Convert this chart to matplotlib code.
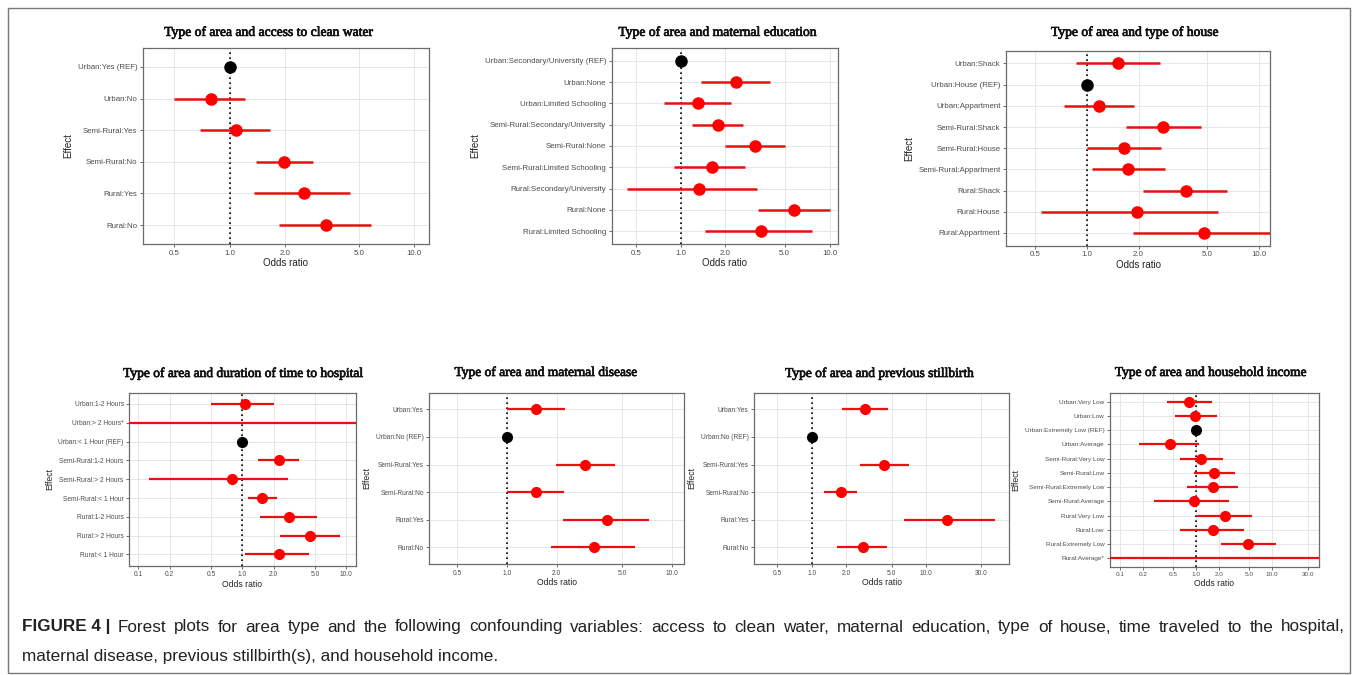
import numpy as np
import matplotlib
matplotlib.use("Agg")
import matplotlib.pyplot as plt
import matplotlib.patheffects as pe
from matplotlib.patches import Rectangle

plt.rcParams['font.family'] = ['Liberation Sans', 'DejaVu Sans']

W, H = 1357, 675

# ---- data (odds ratio, lower CI, upper CI); nan estimate = point off scale
water_labels = ["Urban:Yes (REF)", "Urban:No", "Semi-Rural:Yes", "Semi-Rural:No",
                "Rural:Yes", "Rural:No"]
water_or = [1.0, 0.79, 1.08, 1.97, 2.51, 3.32]
water_lo = [1.0, 0.50, 0.69, 1.38, 1.36, 1.86]
water_hi = [1.0, 1.21, 1.65, 2.81, 4.48, 5.81]

edu_labels = ["Urban:Secondary/University (REF)", "Urban:None", "Urban:Limited Schooling",
              "Semi-Rural:Secondary/University", "Semi-Rural:None",
              "Semi-Rural:Limited Schooling", "Rural:Secondary/University",
              "Rural:None", "Rural:Limited Schooling"]
edu_or = [1.0, 2.36, 1.30, 1.78, 3.18, 1.62, 1.33, 5.77, 3.45]
edu_lo = [1.0, 1.37, 0.77, 1.20, 2.00, 0.91, 0.44, 3.33, 1.46]
edu_hi = [1.0, 3.98, 2.17, 2.63, 5.02, 2.72, 3.28, 10.0, 7.62]

house_labels = ["Urban:Shack", "Urban:House (REF)", "Urban:Appartment",
                "Semi-Rural:Shack", "Semi-Rural:House", "Semi-Rural:Appartment",
                "Rural:Shack", "Rural:House", "Rural:Appartment"]
house_or = [1.53, 1.0, 1.18, 2.79, 1.65, 1.74, 3.75, 1.97, 4.77]
house_lo = [0.87, 1.0, 0.74, 1.70, 1.01, 1.07, 2.13, 0.54, 1.86]
house_hi = [2.66, 1.0, 1.88, 4.60, 2.69, 2.84, 6.57, 5.78, 15.0]

hosp_labels = ["Urban:1-2 Hours", "Urban:> 2 Hours*", "Urban:< 1 Hour (REF)",
               "Semi-Rural:1-2 Hours", "Semi-Rural:> 2 Hours", "Semi-Rural:< 1 Hour",
               "Rural:1-2 Hours", "Rural:> 2 Hours", "Rural:< 1 Hour"]
hosp_or = [1.05, np.nan, 1.0, 2.25, 0.80, 1.56, 2.81, 4.51, 2.24]
hosp_lo = [0.50, 0.001, 1.0, 1.43, 0.127, 1.13, 1.48, 2.30, 1.06]
hosp_hi = [2.00, 1000.0, 1.0, 3.53, 2.77, 2.14, 5.26, 8.75, 4.34]

dis_labels = ["Urban:Yes", "Urban:No (REF)", "Semi-Rural:Yes", "Semi-Rural:No",
              "Rural:Yes", "Rural:No"]
dis_or = [1.50, 1.0, 2.96, 1.50, 4.04, 3.36]
dis_lo = [1.00, 1.0, 1.97, 1.00, 2.20, 1.85]
dis_hi = [2.26, 1.0, 4.50, 2.21, 7.22, 5.97]

still_labels = ["Urban:Yes", "Urban:No (REF)", "Semi-Rural:Yes", "Semi-Rural:No",
                "Rural:Yes", "Rural:No"]
still_or = [2.92, 1.0, 4.30, 1.79, 15.2, 2.78]
still_lo = [1.83, 1.0, 2.64, 1.29, 6.43, 1.67]
still_hi = [4.66, 1.0, 7.06, 2.50, 39.4, 4.57]

inc_labels = ["Urban:Very Low", "Urban:Low", "Urban:Extremely Low (REF)", "Urban:Average",
              "Semi-Rural:Very Low", "Semi-Rural:Low", "Semi-Rural:Extremely Low",
              "Semi-Rural:Average", "Rural:Very Low", "Rural:Low",
              "Rural:Extremely Low", "Rural:Average*"]
inc_or = [0.81, 0.97, 1.0, 0.46, 1.16, 1.71, 1.66, 0.93, 2.38, 1.66, 4.79, np.nan]
inc_lo = [0.42, 0.53, 1.0, 0.178, 0.61, 0.95, 0.77, 0.28, 1.03, 0.61, 2.13, 0.001]
inc_hi = [1.62, 1.87, 1.0, 1.11, 2.29, 3.26, 3.61, 2.69, 5.51, 4.32, 11.1, 1000.0]

ticks_a = [0.5, 1.0, 2.0, 5.0, 10.0]
ticks_b = [0.1, 0.2, 0.5, 1.0, 2.0, 5.0, 10.0]
ticks_c = [0.5, 1.0, 2.0, 5.0, 10.0, 30.0]
ticks_d = [0.1, 0.2, 0.5, 1.0, 2.0, 5.0, 10.0, 30.0]

caption_1 = ("Forest plots for area type and the following confounding variables: access to "
             "clean water, maternal education, type of house, time traveled to the hospital,")
caption_2 = "maternal disease, previous stillbirth(s), and household income."

fig = plt.figure(figsize=(W / 100, H / 100), dpi=100)


def px_axes(x0, y0, x1, y1):
    return fig.add_axes([x0 / W, 1 - y1 / H, (x1 - x0) / W, (y1 - y0) / H])


def forest(box, title, title_xy, labels, est, lo, hi, ticks, xlim,
           fs=5.7, lab_fs=7, ms=8, lw=1.8, tfs=9.8):
    ax = px_axes(*box)
    n = len(labels)
    y = np.arange(n)
    ax.set_xscale('log')
    ax.set_xlim(*xlim)
    ax.set_ylim(n - 0.4, -0.6)
    ax.grid(True, color='#e6e6e6', linewidth=0.7, zorder=0)
    ax.axvline(1.0, color='black', linestyle=(0, (1, 2)), linewidth=1.2, zorder=2)
    for i in range(n):
        if lo[i] == hi[i]:
            ax.plot(est[i], y[i], 'o', color='black', markersize=ms, zorder=4)
        else:
            ax.plot([lo[i], hi[i]], [y[i], y[i]], color='#e81010', linewidth=lw,
                    solid_capstyle='butt', zorder=3)
            if not np.isnan(est[i]):
                ax.plot(est[i], y[i], 'o', color='#ff0000', markersize=ms, zorder=4)
    ax.set_yticks(y)
    ax.set_yticklabels(labels)
    ax.set_xticks(ticks)
    ax.set_xticklabels(["%.1f" % t for t in ticks])
    ax.minorticks_off()
    ax.tick_params(labelsize=fs, colors='#555555', length=2.5, width=0.6,
                   labelcolor='#4d4d4d', pad=1.5)
    for s in ax.spines.values():
        s.set_color('#6b6b6b')
        s.set_linewidth(0.9)
    ax.set_xlabel("Odds ratio", fontsize=lab_fs, color='#222222', labelpad=1)
    ax.set_ylabel("Effect", fontsize=lab_fs, color='#222222', labelpad=3)
    fig.text(title_xy[0] / W, 1 - title_xy[1] / H, title, ha='center', va='center',
             fontsize=tfs, fontweight='normal',
             family=['Liberation Serif', 'DejaVu Serif'], color='#111111',
             path_effects=[pe.withStroke(linewidth=0.5, foreground='#111111')])
    return ax


forest((142.7, 48, 429, 244), "Type of area and access to clean water", (269, 32),
       water_labels, water_or, water_lo, water_hi, ticks_a, (0.338, 12.0))
forest((611.7, 48, 838, 244), "Type of area and maternal education", (718, 32),
       edu_labels, edu_or, edu_lo, edu_hi, ticks_a, (0.345, 11.4))
forest((1006, 50.7, 1270, 245.7), "Type of area and type of house", (1135, 32),
       house_labels, house_or, house_lo, house_hi, ticks_a, (0.34, 11.6))

forest((129.3, 392.7, 355.7, 565.7), "Type of area and duration of time to hospital",
       (244, 374), hosp_labels, hosp_or, hosp_lo, hosp_hi, ticks_b, (0.082, 12.3),
       fs=4.8, lab_fs=6.2, ms=7, lw=1.6, tfs=9.7)
forest((429.3, 392.7, 684, 564), "Type of area and maternal disease", (546.5, 373),
       dis_labels, dis_or, dis_lo, dis_hi, ticks_a, (0.339, 11.8),
       fs=4.8, lab_fs=6.2, ms=7, lw=1.6, tfs=9.7)
forest((754.3, 392.7, 1009.3, 564), "Type of area and previous stillbirth", (880, 374),
       still_labels, still_or, still_lo, still_hi, ticks_c, (0.316, 53),
       fs=4.8, lab_fs=6.2, ms=7, lw=1.6, tfs=9.7)
forest((1110, 393.3, 1318.7, 566.7), "Type of area and household income", (1211, 373),
       inc_labels, inc_or, inc_lo, inc_hi, ticks_d, (0.074, 41),
       fs=4.6, lab_fs=6.2, ms=7, lw=1.6, tfs=9.7)

# outer frame
fig.patches.append(Rectangle((8 / W, 1 - 673 / H), (1350 - 8) / W, (673 - 8) / H,
                             transform=fig.transFigure, fill=False,
                             edgecolor='#777777', linewidth=1.0))

# caption, first line justified to the right margin
cap_fs = 12.3
renderer = fig.canvas.get_renderer()
t1 = fig.text(22 / W, 1 - 627 / H, "FIGURE 4 |", fontsize=cap_fs, fontweight='bold',
              va='center', ha='left', color='#222222')
x_start = t1.get_window_extent(renderer).x1
words = caption_1.split(" ")
word_texts = [fig.text(0, 1 - 627 / H, w, fontsize=cap_fs, va='center', ha='left',
                       color='#222222') for w in words]
widths = [t.get_window_extent(renderer).width for t in word_texts]
x_end = 1345
gap = (x_end - x_start - sum(widths)) / len(words)
x = x_start + gap
for t, w in zip(word_texts, widths):
    t.set_x(x / W)
    x += w + gap
fig.text(22 / W, 1 - 656 / H, caption_2,
         fontsize=cap_fs, va='center', ha='left', color='#222222')

fig.savefig("out.png", dpi=100)
